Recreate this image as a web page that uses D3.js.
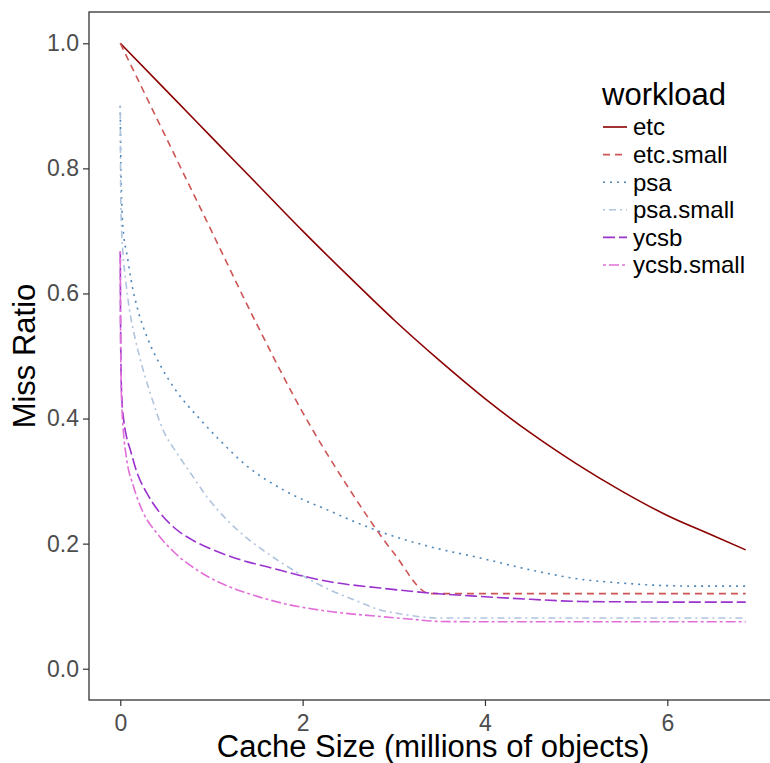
<!DOCTYPE html>
<html>
<head>
<meta charset="utf-8">
<script src="https://cdn.jsdelivr.net/npm/d3@7"></script>
<style>
  body { margin: 0; background: #fff; }
  text { font-family: "Liberation Sans", Arial, sans-serif; }
</style>
</head>
<body>
<svg id="chart" width="770" height="763"></svg>
<script>
// series names, in legend order
const workloads = ["etc", "etc.small", "psa", "psa.small", "ycsb", "ycsb.small"];

// values (x = millions of objects, y = miss ratio)
const etcX = [0, 0.5, 1, 1.5, 2, 2.5, 3, 3.5, 4, 4.5, 5, 5.5, 6, 6.5, 6.86];
const etcY = [1.0, 0.925, 0.85, 0.775, 0.70, 0.628, 0.558, 0.493, 0.432, 0.377, 0.328, 0.284, 0.245, 0.213, 0.19];

const etcSmallX = [0, 0.5, 1, 1.5, 2, 2.5, 3, 3.4, 4, 5, 6, 6.86];
const etcSmallY = [1.0, 0.85, 0.70, 0.55, 0.41, 0.29, 0.185, 0.12, 0.12, 0.12, 0.12, 0.12];

const psaX = [0, 0.005, 0.01, 0.02, 0.04, 0.07, 0.12, 0.2, 0.3, 0.44, 0.6, 0.88, 1.1, 1.39, 1.8, 2.27, 2.89, 3.4, 3.95, 4.5, 5.05, 5.5, 5.96, 6.4, 6.86];
const psaY = [0.90, 0.82, 0.78, 0.73, 0.69, 0.665, 0.62, 0.57, 0.528, 0.485, 0.447, 0.398, 0.364, 0.324, 0.285, 0.254, 0.217, 0.195, 0.177, 0.158, 0.143, 0.137, 0.133, 0.132, 0.132];

const psaSmallX = [0, 0.005, 0.015, 0.03, 0.06, 0.1, 0.16, 0.22, 0.33, 0.475, 0.62, 0.77, 0.95, 1.17, 1.38, 1.61, 1.95, 2.3, 2.6, 2.85, 3.1, 3.29, 3.5, 4, 5, 6, 6.86];
const psaSmallY = [0.90, 0.76, 0.70, 0.664, 0.62, 0.575, 0.53, 0.494, 0.44, 0.38, 0.345, 0.313, 0.275, 0.238, 0.21, 0.185, 0.153, 0.126, 0.108, 0.094, 0.087, 0.083, 0.081, 0.081, 0.081, 0.081, 0.081];

const ycsbX = [0, 0.003, 0.008, 0.018, 0.04, 0.07, 0.11, 0.18, 0.29, 0.42, 0.58, 0.8, 1.02, 1.3, 1.61, 1.95, 2.3, 2.85, 3.4, 3.95, 4.5, 5.05, 5.5, 6, 6.86];
const ycsbY = [0.667, 0.56, 0.48, 0.43, 0.395, 0.37, 0.35, 0.315, 0.281, 0.252, 0.227, 0.205, 0.19, 0.175, 0.163, 0.15, 0.139, 0.129, 0.121, 0.1155, 0.111, 0.1075, 0.107, 0.1065, 0.1065];

const ycsbSmallX = [0, 0.003, 0.008, 0.02, 0.036, 0.07, 0.146, 0.25, 0.4, 0.6, 0.84, 1.1, 1.39, 1.8, 2.3, 2.85, 3.2, 3.51, 4, 5, 6, 6.86];
const ycsbSmallY = [0.667, 0.55, 0.47, 0.41, 0.376, 0.335, 0.291, 0.25, 0.217, 0.185, 0.158, 0.137, 0.121, 0.104, 0.0915, 0.0835, 0.079, 0.0756, 0.075, 0.075, 0.075, 0.075];

const xTicks = [0, 2, 4, 6];
const yTicks = [0.0, 0.2, 0.4, 0.6, 0.8, 1.0];

const seriesX = [etcX, etcSmallX, psaX, psaSmallX, ycsbX, ycsbSmallX];
const seriesY = [etcY, etcSmallY, psaY, psaSmallY, ycsbY, ycsbSmallY];

// look of each workload
const colors = ["#8b0000", "#cd5555", "#4f86b8", "#b0c4de", "#9a32cd", "#e070d8"];
const dashes = [null, "7,5", "2,5", "2,4,7,4", "12,4", "3,3,10,3"];

const svg = d3.select("#chart");
const panel = { left: 89, top: 12, right: 777, bottom: 700 };

const x = d3.scaleLinear().domain([-0.343, 7.203]).range([panel.left, panel.right]);
const y = d3.scaleLinear().domain([-0.05, 1.05]).range([panel.bottom, panel.top]);

svg.append("defs").append("clipPath").attr("id", "clip")
    .append("rect")
    .attr("x", panel.left).attr("y", panel.top)
    .attr("width", panel.right - panel.left).attr("height", panel.bottom - panel.top);

// 線
const line = d3.line()
    .x(d => x(d[0]))
    .y(d => y(d[1]))
    .curve(d3.curveMonotoneX);

const plot = svg.append("g").attr("clip-path", "url(#clip)");
workloads.forEach((w, i) => {
    const pts = seriesX[i].map((v, j) => [v, seriesY[i][j]]);
    plot.append("path")
        .datum(pts)
        .attr("d", line)
        .attr("fill", "none")
        .attr("stroke", colors[i])
        .attr("stroke-width", 1.6)
        .attr("stroke-dasharray", dashes[i]);
});

// panel border
svg.append("rect")
    .attr("x", panel.left).attr("y", panel.top)
    .attr("width", panel.right - panel.left).attr("height", panel.bottom - panel.top)
    .attr("fill", "none")
    .attr("stroke", "#333")
    .attr("stroke-width", 1.3);

// axes
const xAxis = svg.append("g")
    .attr("transform", `translate(0,${panel.bottom})`)
    .call(d3.axisBottom(x).tickValues(xTicks).tickFormat(d3.format("d")).tickSize(6).tickPadding(4));
const yAxis = svg.append("g")
    .attr("transform", `translate(${panel.left},0)`)
    .call(d3.axisLeft(y).tickValues(yTicks).tickFormat(d3.format(".1f")).tickSize(6).tickPadding(4));

[xAxis, yAxis].forEach(a => {
    a.select(".domain").remove();
    a.selectAll(".tick line").attr("stroke", "#333").attr("stroke-width", 1.2);
    a.selectAll(".tick text")
        .attr("fill", "#4d4d4d")
        .style("font-size", "23px")
        .style("font-family", "'Liberation Sans', Arial, sans-serif");
});
xAxis.selectAll(".tick text").attr("dy", "0.9em");

// axis titles
svg.append("text")
    .attr("x", (panel.left + panel.right) / 2)
    .attr("y", 757)
    .attr("text-anchor", "middle")
    .style("font-size", "31px")
    .text("Cache Size (millions of objects)");

svg.append("text")
    .attr("transform", `translate(35,${(panel.top + panel.bottom) / 2}) rotate(-90)`)
    .attr("text-anchor", "middle")
    .style("font-size", "31px")
    .text("Miss Ratio");

// legend
const legend = svg.append("g");
legend.append("text")
    .attr("x", 602).attr("y", 105)
    .style("font-size", "31px")
    .text("workload");

workloads.forEach((w, i) => {
    const ly = 127 + i * 27.6;
    legend.append("line")
        .attr("x1", 603).attr("x2", 627)
        .attr("y1", ly).attr("y2", ly)
        .attr("stroke", colors[i])
        .attr("stroke-width", 1.6)
        .attr("stroke-dasharray", dashes[i]);
    legend.append("text")
        .attr("x", 633).attr("y", ly)
        .attr("dy", "0.35em")
        .style("font-size", "24px")
        .text(w);
});
</script>
</body>
</html>
